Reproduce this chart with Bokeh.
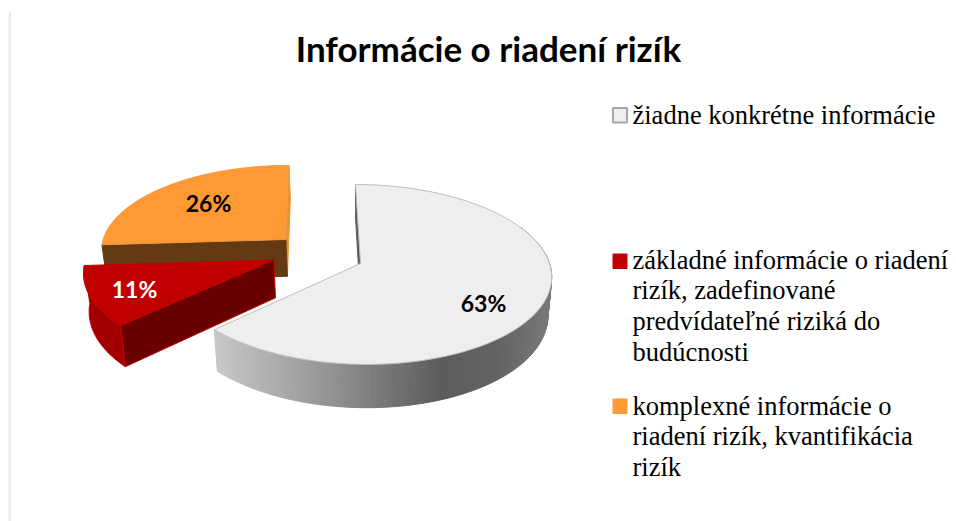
import numpy as np
from bokeh.plotting import figure
from bokeh.models import Range1d
from bokeh.core.properties import value
from bokeh.embed import file_html
from bokeh.resources import INLINE

title = "Informácie o riadení rizík"
shares = [63, 11, 26]
pct_labels = ["63%", "11%", "26%"]
legend_lines = [
    ["žiadne konkrétne informácie"],
    ["základné informácie o riadení", "rizík, zadefinované", "predvídateľné riziká do", "budúcnosti"],
    ["komplexné informácie o", "riadení rizík, kvantifikácia", "rizík"],
]
top_colors = ["#EEEEEE", "#C00000", "#FF9933"]

# style / layout (screen-like units)
CX, CY, RX, RY, PERSP, SKEW, DEPTH, SHRINK = 360, 263, 189, 88.6, 0.122, -5.6, 38, 0.98
explode = [(0.0, 0.0), (-0.46, 0.04), (-0.40, 0.28)]

p = figure(width=956, height=521, x_range=Range1d(0, 956), y_range=Range1d(521, 0),
           output_backend="svg", toolbar_location=None, min_border=0,
           outline_line_color=None)
p.axis.visible = False
p.grid.visible = False


def project(theta, off, bottom=False):
    u = off[0] + np.sin(theta)
    v = off[1] + np.cos(theta)
    den = 1 + PERSP * v
    x = CX + (RX * u + SKEW * v) / den
    y = CY - RY * v / den
    if bottom:
        x = CX + (x - CX) * SHRINK
        y = y + DEPTH / den
    return np.atleast_1d(x), np.atleast_1d(y)


def vertex(off, bottom=False):
    den = 1 + PERSP * off[1]
    x = CX + (RX * off[0] + SKEW * off[1]) / den
    y = CY - RY * off[1] / den
    if bottom:
        x = CX + (x - CX) * SHRINK
        y = y + DEPTH / den
    return x, y


def face(x, y, fill, line=None, width=1.0):
    p.patch(list(x), list(y), fill_color=fill, line_color=line or fill, line_width=width)


fracs = np.array(shares, dtype=float) / sum(shares)
edges = np.concatenate([[0], np.cumsum(fracs)]) * 2 * np.pi
spans = [(edges[i], edges[i + 1]) for i in range(len(shares))]


def cut_face(theta, off, fill, line=None):
    tx, ty = project(theta, off)
    bx, by = project(theta, off, True)
    vx, vy = vertex(off)
    wx, wy = vertex(off, True)
    face([vx, tx[0], bx[0], wx], [vy, ty[0], by[0], wy], fill, line)


def top_face(i, line):
    a, b = spans[i]
    t = np.linspace(a, b, 120)
    ax, ay = project(t, explode[i])
    vx, vy = vertex(explode[i])
    face(np.r_[vx, ax], np.r_[vy, ay], top_colors[i], line, 1.0)


# orange slice
cut_face(spans[2][1], explode[2], "#E8932F")
cut_face(spans[2][0], explode[2], "#643A13")
top_face(2, "#EE9A45")

# red slice
a, b = spans[1]
t = np.linspace(a, b, 60)
ax, ay = project(t, explode[1])
bx, by = project(t, explode[1], True)
cut_face(a, explode[1], "#690000", "#C80000")
face(np.r_[ax, bx[::-1]], np.r_[ay, by[::-1]], "#A20000", "#C00000")
top_face(1, "#C00000")

# grey slice: rim as a shaded band
a, b = spans[0]
stops_x = [214, 320, 440, 500, 548]
stops_g = [200, 152, 92, 100, 120]
rim = np.linspace(np.pi * 0.36, b, 110)
for t0, t1 in zip(rim[:-1], rim[1:]):
    tt = np.array([t0, t1])
    ax, ay = project(tt, explode[0])
    bx, by = project(tt, explode[0], True)
    g = int(np.interp((ax[0] + ax[1]) / 2, stops_x, stops_g))
    col = "#%02x%02x%02x" % (g, g, g)
    face(np.r_[ax, bx[::-1]], np.r_[ay, by[::-1]], col, col, 1.0)
cut_face(a, explode[0], "#5A5A5A")
top_face(0, "#BDBDBD")

# page shadow on the left
p.quad(left=[8, 9], right=[9, 10], top=[13, 11], bottom=[521, 521],
       fill_color=["#EDEDED", "#DADADA"], line_color=None)

# texts
FONT = value("Lato")
p.text([488], [47], text=[title], text_font=FONT, text_font_style="bold",
       text_font_size="35px", text_align="center", text_baseline="alphabetic", text_color="#000000")
p.text([483, 134, 208], [302, 288, 202], text=pct_labels, text_font=FONT, text_font_style="bold",
       text_font_size="23px", text_align="center", text_baseline="alphabetic",
       text_color=["#000000", "#FFFFFF", "#000000"])

SERIF = value("Liberation Serif")
first_base = [114, 259, 405]
PITCH = 30.8
marker_top = [107, 253, 398]
marker_line = ["#A6A6A6", "#C00000", "#FF9933"]
for i, lines in enumerate(legend_lines):
    p.quad(left=[612.5], right=[626.5], top=[marker_top[i] + 0.5], bottom=[marker_top[i] + 15],
           fill_color=top_colors[i], line_color=marker_line[i], line_width=2 if i == 0 else 1)
    for j, line in enumerate(lines):
        p.text([632], [first_base[i] + j * PITCH], text=[line], text_font=SERIF,
               text_font_size="26.5px", text_align="left", text_baseline="alphabetic",
               text_color="#000000")

open("out.html", "w").write(file_html(p, INLINE))
